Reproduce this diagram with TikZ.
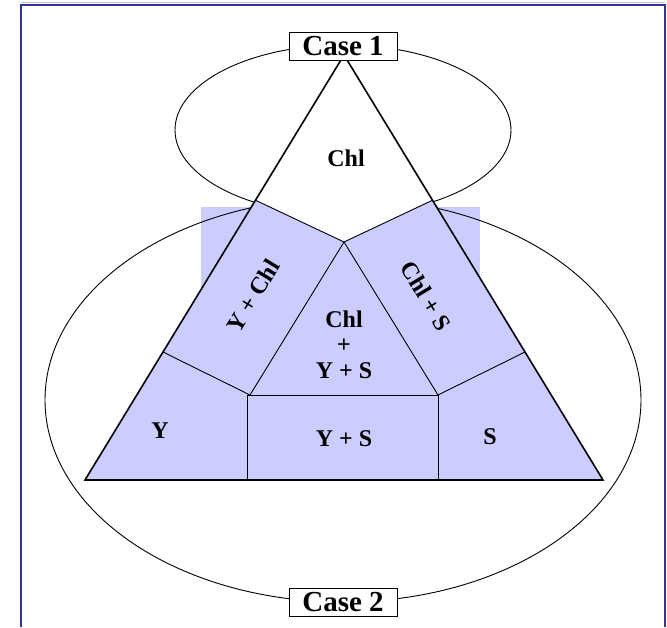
\documentclass[tikz,border=0pt]{standalone}
\usepackage{fontspec}
\setmainfont{Liberation Serif}
\definecolor{regblue}{HTML}{CCCCFF}
\definecolor{framebl}{HTML}{333399}
\begin{document}
\begin{tikzpicture}[x=1pt,y=-1pt,
  lbl/.style={font=\fontsize{24}{26}\selectfont\bfseries, inner sep=0pt},
  casebox/.style={draw=black, fill=white, line width=1pt, font=\fontsize{29}{30}\selectfont\bfseries, inner sep=1pt, minimum width=108pt, minimum height=28pt},
  thin/.style={line width=0.9pt},
  edge/.style={line width=1.6pt}]
\useasboundingbox (0,0) rectangle (667,627);
\fill[white] (0,0) rectangle (667,627);
% frame
\draw[framebl!30, line width=1pt] (21,2.5) -- (665,2.5);
\draw[framebl, line width=2pt] (21,627) -- (21,5) -- (665,5) -- (665,627);
% key points
\coordinate (A) at (344,55);
\coordinate (BL) at (85,480);
\coordinate (BR) at (603,480);
\coordinate (P1) at (255,200);
\coordinate (P2) at (433,200);
\coordinate (V) at (344,242);
\coordinate (Q1) at (163,352);
\coordinate (Q2) at (525,352);
\coordinate (IL) at (250,395);
\coordinate (IR) at (438,395);
\coordinate (RL) at (247,395);
\coordinate (RB) at (438,480);
% side blue blocks
\fill[regblue] (201,207) rectangle (300,292);
\fill[regblue] (381,207) rectangle (480,292);
% ellipses
\draw[thin] (343,130) ellipse [x radius=168, y radius=85];
\draw[thin] (343,400) ellipse [x radius=298, y radius=202];
% regions
\fill[white] (A) -- (P1) -- (V) -- (P2) -- cycle;
\fill[regblue] (P1) -- (V) -- (P2) -- (BR) -- (BL) -- cycle;
% inner lines
\draw[thin] (P1) -- (V) -- (P2);
\draw[thin] (IL) -- (V) -- (IR);
\draw[thin] (Q1) -- (IL);
\draw[thin] (Q2) -- (IR);
\draw[thin] (RL) rectangle (RB);
% outer triangle
\draw[edge, line join=miter] (A) -- (BL) -- (BR) -- cycle;
% labels
\node[lbl] (chl) at (346,158) {Chl};
\node[lbl, rotate=58.6] (ychl) at (253,296) {Y + Chl};
\node[lbl, rotate=-58.6] (chls) at (426,296) {Chl + S};
\node[lbl] (c1) at (344,319) {Chl};
\node[lbl] (c2) at (344,346) {+};
\node[lbl] (c3) at (344,371) {Y + S};
\node[lbl] (y) at (160,431) {Y};
\node[lbl] (ys) at (344,439) {Y + S};
\node[lbl] (s) at (490,437) {S};
% case boxes
\node[casebox] (case1) at (343,46) {Case 1};
\node[casebox] (case2) at (343,602) {Case 2};
\end{tikzpicture}
\end{document}
